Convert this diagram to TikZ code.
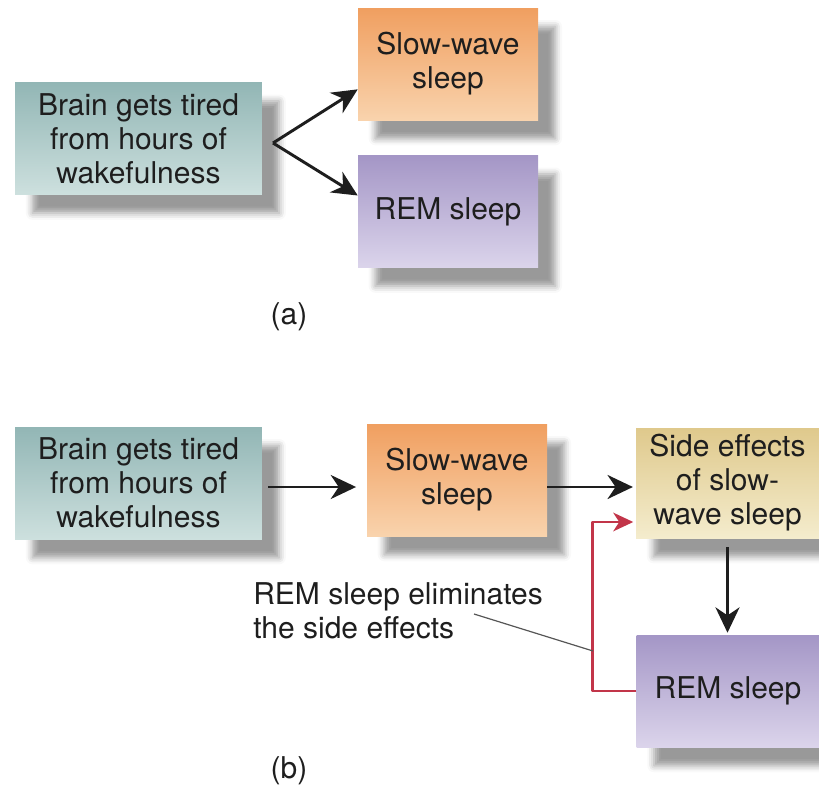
\documentclass[tikz,border=0pt]{standalone}
\usepackage{fontspec}
\setmainfont{TeX Gyre Heros}
\usetikzlibrary{arrows.meta,shadows.blur}
\definecolor{tealtop}{HTML}{92B6B5}
\definecolor{tealbot}{HTML}{CDE0DE}
\definecolor{orgtop}{HTML}{F09F60}
\definecolor{orgbot}{HTML}{F9D3AD}
\definecolor{purtop}{HTML}{A496C6}
\definecolor{purbot}{HTML}{DBD4EB}
\definecolor{tantop}{HTML}{DFC98C}
\definecolor{tanbot}{HTML}{F4ECCD}
\definecolor{linkred}{HTML}{C23549}
\definecolor{ink}{HTML}{1E1E1E}
\begin{document}
\begin{tikzpicture}[x=0.75pt,y=-0.75pt,line join=round,
    font=\fontsize{22.5}{25.5}\selectfont,
    stage/.style={minimum width=135pt,minimum height=84pt,inner sep=0pt,
      align=center,text=ink,
      blur shadow={shadow xshift=13pt,shadow yshift=-14pt,
        shadow blur radius=5pt,shadow opacity=40}},
    tealbox/.style={top color=tealtop,bottom color=tealbot},
    orangebox/.style={top color=orgtop,bottom color=orgbot},
    purplebox/.style={top color=purtop,bottom color=purbot},
    tanbox/.style={top color=tantop,bottom color=tanbot},
    arr/.style={draw=ink,line width=2.2pt,-{Stealth[length=19pt,width=18pt,inset=6pt]}},
    redarr/.style={draw=linkred,line width=1.7pt,-{Stealth[length=15pt,width=14pt,inset=4.5pt]}},
    pointer/.style={draw=ink!75,line width=0.9pt}]
  \useasboundingbox (0,0) rectangle (819,789);
  % (a)
  \node[stage,tealbox,minimum width=185pt] (B1) at (138.5,138.5)
       {Brain gets tired\\from hours of\\wakefulness};
  \node[stage,orangebox] (S1) at (448,64) {Slow-wave\\sleep};
  \node[stage,purplebox] (R1) at (448,211.5) {REM sleep};
  \coordinate (f) at (273,143);
  \draw[arr] (f) -- ([yshift=-19pt]S1.west);
  \draw[arr] (f) -- ([yshift=12pt]R1.west);
  \node[text=ink] (A) at (289,317) {(a)};
  % (b)
  \node[stage,tealbox,minimum width=185pt] (B2) at (138.5,483)
       {Brain gets tired\\from hours of\\wakefulness};
  \node[stage,orangebox] (S2) at (457,480) {Slow-wave\\sleep};
  \node[stage,tanbox,minimum width=137pt,minimum height=82.5pt] (E2) at (727.5,483)
       {Side effects\\of slow-\\wave sleep};
  \node[stage,purplebox,minimum width=137pt] (R2) at (728,691) {REM sleep};
  \coordinate (y2) at ([yshift=-3pt]B2.east);
  \draw[arr,shorten <=4.5pt,shorten >=8pt] (y2) -- (y2 -| S2.west);
  \draw[arr,shorten >=2.25pt] (y2 -| S2.east) -- (y2 -| E2.west);
  \draw[arr,shorten <=6.75pt,shorten >=1.5pt] (E2.south) -- (E2.south |- R2.north);
  \draw[redarr,shorten >=2pt] (R2.west) -- ++(-44,0) |- ([yshift=-29.25pt]E2.west);
  \node[anchor=west,align=left,inner sep=0pt,text=ink] (L) at (253,611)
       {REM sleep eliminates\\the side effects};
  \coordinate (p1) at (474,614);
  \coordinate (p2) at (593,651);
  \draw[pointer] (p1) -- (p2);
  \node[text=ink] (Bc) at (289,771) {(b)};
\end{tikzpicture}
\end{document}
